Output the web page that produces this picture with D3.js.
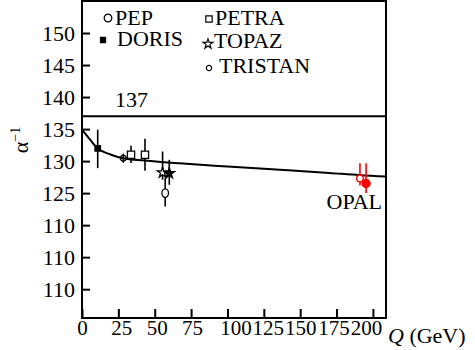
<!DOCTYPE html>
<html>
<head>
<meta charset="utf-8">
<script src="https://cdn.jsdelivr.net/npm/d3@7"></script>
</head>
<body style="margin:0">
<script>
const FONT = "'Liberation Serif'";

// axis ticks (labels copied as printed)
const xTicks = [0, 25, 50, 75, 100, 125, 150, 175, 200];
const xNudge = [0, 3, 2, 1, 8, 4, 0, -3, -7];
const yTicks = [150, 145, 140, 135, 130, 125, 120, 115, 110];
const yLabels = ["150", "145", "140", "135", "130", "125", "110", "110", "110"];

// running 1/alpha curve
const curveQ = [0, 5, 10.8, 20, 28.4, 43, 67, 100, 136, 170, 191, 209];
const curveA = [134.9, 133.5, 132.0, 131.0, 130.45, 130.1, 129.65, 129.15, 128.65, 128.15, 127.8, 127.6];

// measurements
const dorisQ = [10.8], dorisA = [132.0], dorisHi = [134.9], dorisLo = [128.9];
const pepQ = [28.4], pepA = [130.45], pepHi = [131.15], pepLo = [129.75];
const petraQ = [33.7, 43.3], petraA = [131.0, 131.0], petraHi = [132.4, 133.5], petraLo = [129.7, 128.5];
const topazQ = [55.4, 60], topazA = [128.2, 128.1], topazHi = [131.5, 130.2], topazLo = [127.1, 126.3], topazFilled = [false, true];
const tristanQ = [57.2], tristanA = [125.0], tristanHi = [127.4], tristanLo = [122.9];
const opalQ = [191.1, 195.3], opalA = [127.3, 126.5], opalHi = [129.65, 129.65], opalLo = [126.2, 125.0], opalFilled = [false, true];

const W = 475, H = 350;
const margin = { top: 1, right: 89, bottom: 32, left: 82 };
const width = W - margin.left - margin.right,
      height = H - margin.top - margin.bottom;

const root = d3.select("body").append("svg")
    .attr("width", W).attr("height", H);
const svg = root.append("g")
    .attr("transform", `translate(${margin.left},${margin.top})`);

const x = d3.scaleLinear().domain([0, 209]).range([0, width]);
const y = d3.scaleLinear().domain([105.5, 155]).range([height, 0]);

// x axis, ticks pointing inward
const gx = svg.append("g")
    .attr("transform", `translate(0,${height})`)
    .call(d3.axisBottom(x).tickValues(xTicks).tickSizeInner(-9).tickSizeOuter(0).tickPadding(2));
gx.attr("font-family", null).attr("font-size", null);
gx.select(".domain").remove();
gx.selectAll(".tick line").attr("stroke", "#000").attr("stroke-width", 2);
gx.selectAll(".tick text")
    .attr("fill", "#000").style("font-size", "21px")
    .attr("dx", (d, i) => xNudge[i]);

// y axis
const gy = svg.append("g")
    .call(d3.axisLeft(y).tickValues(yTicks).tickFormat((d, i) => yLabels[i])
      .tickSizeInner(-8).tickSizeOuter(0).tickPadding(7));
gy.attr("font-family", null).attr("font-size", null);
gy.select(".domain").remove();
gy.selectAll(".tick line").attr("stroke", "#000").attr("stroke-width", 2);
gy.selectAll(".tick text").attr("fill", "#000").style("font-size", "22px");

// frame
svg.append("rect")
    .attr("x", 0).attr("y", 0).attr("width", width).attr("height", height)
    .attr("fill", "none").attr("stroke", "#000").attr("stroke-width", 2);

// 137 line
svg.append("line")
    .attr("x1", 0).attr("x2", width).attr("y1", y(137)).attr("y2", y(137))
    .attr("stroke", "#000").attr("stroke-width", 1.8);
svg.append("text")
    .attr("x", 33).attr("y", y(137) - 9)
    .style("font-size", "22px").text("137");

// curve
const curvePts = curveQ.map((q, i) => [q, curveA[i]]);
svg.append("path")
    .datum(curvePts)
    .attr("fill", "none").attr("stroke", "#000").attr("stroke-width", 2)
    .attr("d", d3.line().x(d => x(d[0])).y(d => y(d[1])).curve(d3.curveMonotoneX));

// helpers
const errBar = (qs, hi, lo, color) => {
  svg.append("g").selectAll("line")
    .data(qs).join("line")
    .attr("x1", d => x(d)).attr("x2", d => x(d))
    .attr("y1", (d, i) => y(hi[i])).attr("y2", (d, i) => y(lo[i]))
    .attr("stroke", color).attr("stroke-width", 1.6);
};
const marks = (qs, as, type, size, fill, stroke) => {
  svg.append("g").selectAll("path")
    .data(qs).join("path")
    .attr("transform", (d, i) => `translate(${x(d)},${y(as[i])})`)
    .attr("d", d3.symbol().type(type).size(size)())
    .attr("fill", (d, i) => typeof fill === "function" ? fill(i) : fill)
    .attr("stroke", stroke).attr("stroke-width", 1.3);
};

// DORIS
errBar(dorisQ, dorisHi, dorisLo, "#000");
marks(dorisQ, dorisA, d3.symbolSquare, 30, "#000", "#000");
// PEP
errBar(pepQ, pepHi, pepLo, "#000");
marks(pepQ, pepA, d3.symbolCircle, 28, "none", "#000");
// PETRA
errBar(petraQ, petraHi, petraLo, "#000");
marks(petraQ, petraA, d3.symbolSquare, 52, "#fff", "#000");
// TRISTAN (open ellipse)
errBar(tristanQ, tristanHi, tristanLo, "#000");
svg.append("g").selectAll("ellipse")
    .data(tristanQ).join("ellipse")
    .attr("cx", d => x(d)).attr("cy", (d, i) => y(tristanA[i]))
    .attr("rx", 3.3).attr("ry", 4.3)
    .attr("fill", "#fff").attr("stroke", "#000").attr("stroke-width", 1.3);
// TOPAZ
errBar(topazQ, topazHi, topazLo, "#000");
marks(topazQ, topazA, d3.symbolStar, 34, i => topazFilled[i] ? "#000" : "#fff", "#000");
// OPAL
errBar(opalQ, opalHi, opalLo, "#f00");
svg.append("g").selectAll("circle")
    .data(opalQ).join("circle")
    .attr("cx", d => x(d)).attr("cy", (d, i) => y(opalA[i]))
    .attr("r", (d, i) => opalFilled[i] ? 4 : 3.3)
    .attr("fill", (d, i) => opalFilled[i] ? "#f00" : "#fff")
    .attr("stroke", "#f00").attr("stroke-width", 1.4);
svg.append("text")
    .attr("x", width - 4).attr("y", y(opalA[1]) + 25)
    .attr("text-anchor", "end")
    .style("font-size", "22px").text("OPAL");

// legend
const legend = [
  { name: "PEP",     type: d3.symbolCircle, size: 46, fill: "#fff", lx: 108, ly: 18,  tx: 115, ty: 25 },
  { name: "DORIS",   type: d3.symbolSquare, size: 26, fill: "#000", lx: 103, ly: 40,  tx: 117, ty: 46 },
  { name: "PETRA",   type: d3.symbolSquare, size: 40, fill: "#fff", lx: 209, ly: 19,  tx: 215, ty: 25 },
  { name: "TOPAZ",   type: d3.symbolStar,   size: 30, fill: "#fff", lx: 208, ly: 44,  tx: 214, ty: 48 },
  { name: "TRISTAN", type: d3.symbolCircle, size: 22, fill: "#fff", lx: 209, ly: 68,  tx: 219, ty: 73 }
];
const lg = root.append("g");
lg.selectAll("path").data(legend).join("path")
    .attr("transform", d => `translate(${d.lx},${d.ly})`)
    .attr("d", d => d3.symbol().type(d.type).size(d.size)())
    .attr("fill", d => d.fill).attr("stroke", "#000").attr("stroke-width", 1.2);
lg.selectAll("text").data(legend).join("text")
    .attr("x", d => d.tx).attr("y", d => d.ty)
    .style("font-size", "22px").text(d => d.name);

// axis titles
const qt = root.append("text")
    .attr("x", margin.left + width + 2).attr("y", H - 7)
    .style("font-size", "22px");
qt.append("tspan").style("font-style", "italic").text("Q");
qt.append("tspan").text(" (GeV)");

const at = root.append("text")
    .attr("transform", "translate(28,140) rotate(-90)")
    .attr("text-anchor", "middle")
    .style("font-size", "22px");
at.append("tspan").text("α");
at.append("tspan").attr("dy", -8).style("font-size", "14px").text("−1");

// serif everywhere
root.selectAll("text").style("font-family", FONT);
</script>
</body>
</html>
